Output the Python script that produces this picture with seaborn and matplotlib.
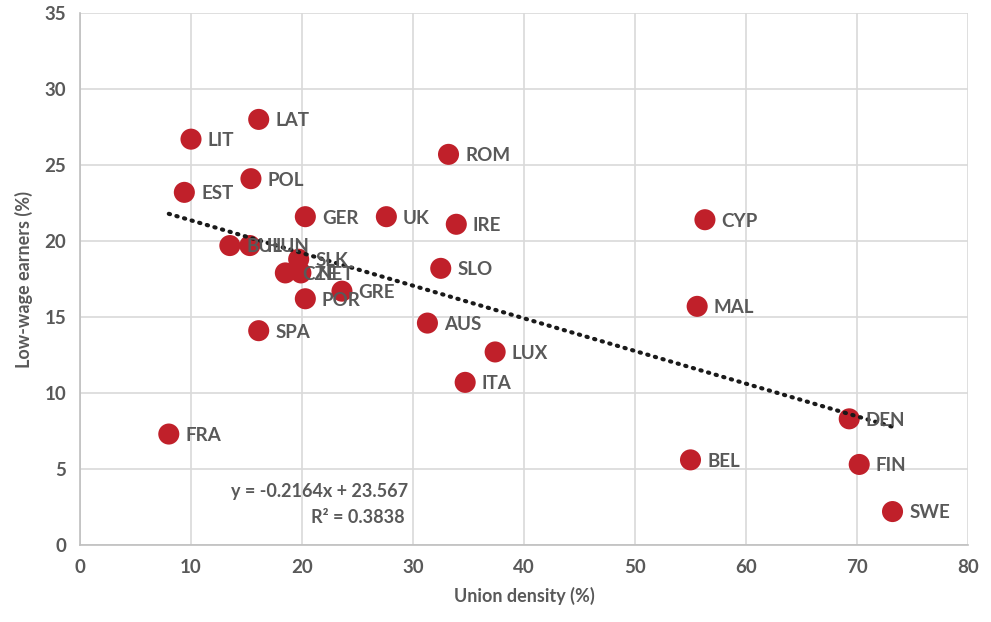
import matplotlib
matplotlib.use("Agg")
import matplotlib.pyplot as plt
import seaborn as sns
import pandas as pd
import numpy as np

countries = ["LAT", "LIT", "EST", "POL", "GER", "UK", "ROM", "IRE", "CYP", "SLO",
             "MAL", "AUS", "LUX", "ITA", "DEN", "BEL", "FIN", "SWE", "FRA", "SPA",
             "BUL", "HUN", "SLK", "CZE", "NET", "POR", "GRE"]
union_density = [16.1, 10.0, 9.4, 15.4, 20.3, 27.6, 33.2, 33.9, 56.3, 32.5,
                 55.6, 31.3, 37.4, 34.7, 69.3, 55.0, 70.2, 73.2, 8.0, 16.1,
                 13.5, 15.3, 19.7, 18.5, 19.9, 20.3, 23.6]
low_wage = [28.0, 26.7, 23.2, 24.1, 21.6, 21.6, 25.7, 21.1, 21.4, 18.2,
            15.7, 14.6, 12.7, 10.7, 8.3, 5.6, 5.3, 2.2, 7.3, 14.1,
            19.7, 19.7, 18.8, 17.9, 17.9, 16.2, 16.7]

df = pd.DataFrame({"country": countries, "x": union_density, "y": low_wage})

sns.set_style("white")
plt.rcParams['font.family'] = ['Lato', 'DejaVu Sans']

fig = plt.figure(figsize=(9.91, 6.22), dpi=100)
ax = fig.add_axes([80/991, 77/622, (968-80)/991, (545-13)/622])

grid_c = "#D9D9D9"
text_c = "#595959"

sns.regplot(data=df, x="x", y="y", ax=ax, scatter=False, ci=None,
            line_kws=dict(color="#1a1a1a", lw=3, linestyle=(0, (0.3, 1.6)),
                          dash_capstyle="round", zorder=4))
sns.scatterplot(data=df, x="x", y="y", ax=ax, s=230, color="#C0202A",
                edgecolor="none", zorder=3)

for c, x, y in zip(countries, union_density, low_wage):
    ax.annotate(c, (x, y), xytext=(12, -1), textcoords="offset points",
                ha="left", va="center", fontsize=13.5, fontweight="bold",
                color=text_c, zorder=5)

ax.text(21.6, 3.5, "y = -0.2164x + 23.567", ha="center", va="center",
        fontsize=13, fontweight="bold", color=text_c)
ax.text(25.0, 1.8, "R² = 0.3838", ha="center", va="center",
        fontsize=13, fontweight="bold", color=text_c)

ax.set_xlim(0, 80)
ax.set_ylim(0, 35)
ax.set_xticks(range(0, 81, 10))
ax.set_yticks(range(0, 36, 5))
ax.grid(True, color=grid_c, lw=1.2)
ax.set_axisbelow(True)
for s in ["top", "right"]:
    ax.spines[s].set_visible(False)
for s in ["left", "bottom"]:
    ax.spines[s].set_color("#BFBFBF")
    ax.spines[s].set_linewidth(1.2)
ax.tick_params(axis="both", length=0, labelsize=13.5, labelcolor=text_c, pad=10)
for lab in ax.get_xticklabels() + ax.get_yticklabels():
    lab.set_fontweight("bold")
ax.set_xlabel("Union density (%)", fontsize=13, fontweight="bold", color=text_c, labelpad=8)
ax.set_ylabel("Low-wage earners (%)", fontsize=13, fontweight="bold", color=text_c, labelpad=8)

fig.savefig("out.png", dpi=100)
